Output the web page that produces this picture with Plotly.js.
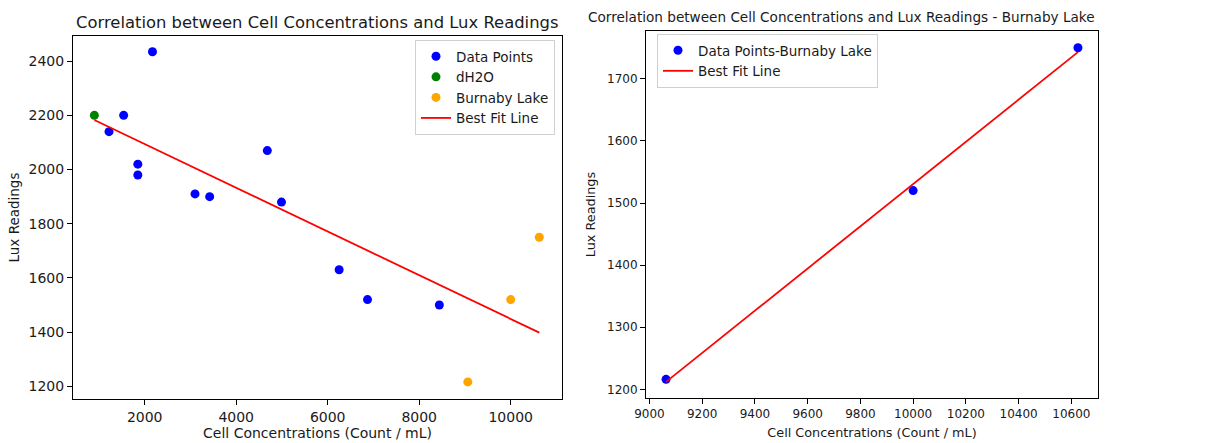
<!DOCTYPE html>
<html>
<head>
<meta charset="utf-8">
<script src="https://cdn.plot.ly/plotly-3.0.1.min.js"></script>
<style>html,body{margin:0;padding:0;background:#fff;}#chart{width:1207px;height:443px;}</style>
</head>
<body>
<div id="chart"></div>
<script>
// ---- Left panel data ----
const dataPointsX = [1220, 1540, 2170, 1850, 1850, 3100, 3420, 4680, 4990, 6250, 6870, 8440];
const dataPointsY = [2140, 2200, 2435, 2020, 1980, 1910, 1900, 2070, 1880, 1630, 1520, 1500];
const dH2OX = [900];
const dH2OY = [2200];
const burnabyX = [9063, 10000, 10625];
const burnabyY = [1216, 1520, 1750];
const fitLeftX = [900, 10625];
const fitLeftY = [2183, 1398];

// ---- Right panel data ----
const lakeX = [9063, 10000, 10625];
const lakeY = [1216, 1520, 1750];
const fitRightX = [9063, 10625];
const fitRightY = [1212, 1743];

// ---- Tick labels ----
const leftXTicks = [2000, 4000, 6000, 8000, 10000];
const leftYTicks = [1200, 1400, 1600, 1800, 2000, 2200, 2400];
const rightXTicks = [9000, 9200, 9400, 9600, 9800, 10000, 10200, 10400, 10600];
const rightYTicks = [1200, 1300, 1400, 1500, 1600, 1700];

const W = 1207, H = 443;
const FONT = 'DejaVu Sans, sans-serif';
const TXT = '#1a1a1a';

const traces = [
  {x: dataPointsX, y: dataPointsY, type: 'scatter', mode: 'markers', name: 'Data Points',
   marker: {color: '#0000ff', size: 9}, xaxis: 'x', yaxis: 'y', legend: 'legend'},
  {x: dH2OX, y: dH2OY, type: 'scatter', mode: 'markers', name: 'dH2O',
   marker: {color: '#008000', size: 9}, xaxis: 'x', yaxis: 'y', legend: 'legend'},
  {x: burnabyX, y: burnabyY, type: 'scatter', mode: 'markers', name: 'Burnaby Lake',
   marker: {color: '#ffa500', size: 9}, xaxis: 'x', yaxis: 'y', legend: 'legend'},
  {x: fitLeftX, y: fitLeftY, type: 'scatter', mode: 'lines', name: 'Best Fit Line',
   line: {color: '#ff0000', width: 1.8}, xaxis: 'x', yaxis: 'y', legend: 'legend'},
  {x: lakeX, y: lakeY, type: 'scatter', mode: 'markers', name: 'Data Points-Burnaby Lake',
   marker: {color: '#0000ff', size: 9}, xaxis: 'x2', yaxis: 'y2', legend: 'legend2'},
  {x: fitRightX, y: fitRightY, type: 'scatter', mode: 'lines', name: 'Best Fit Line',
   line: {color: '#ff0000', width: 1.8}, xaxis: 'x2', yaxis: 'y2', legend: 'legend2'}
];

function ax(extra) {
  return Object.assign({
    showline: true, linecolor: '#000', linewidth: 1, mirror: true,
    showgrid: false, zeroline: false, ticks: 'outside', ticklen: 5, tickwidth: 1,
    tickcolor: '#000', tickformat: 'd', tickfont: {family: FONT, size: 14, color: TXT}
  }, extra);
}

const layout = {
  width: W, height: H,
  margin: {l: 0, r: 0, t: 0, b: 0},
  paper_bgcolor: '#fff', plot_bgcolor: '#fff',
  font: {family: FONT, color: TXT},
  xaxis: ax({domain: [73/W, 562/W], range: [433, 11121], tickvals: leftXTicks, anchor: 'y',
    title: {text: 'Cell Concentrations (Count / mL)', font: {family: FONT, size: 14, color: TXT}, standoff: 4}}),
  yaxis: ax({domain: [(H-399)/H, (H-36)/H], range: [1153, 2493], tickvals: leftYTicks, anchor: 'x',
    title: {text: 'Lux Readings', font: {family: FONT, size: 13.5, color: TXT}, standoff: 5}}),
  xaxis2: ax({domain: [646/W, 1098/W], range: [8987, 10701], tickvals: rightXTicks, anchor: 'y2',
    tickfont: {family: FONT, size: 12, color: TXT},
    title: {text: 'Cell Concentrations (Count / mL)', font: {family: FONT, size: 12.8, color: TXT}, standoff: 7}}),
  yaxis2: ax({domain: [(H-398)/H, (H-31)/H], range: [1186, 1777], tickvals: rightYTicks, anchor: 'x2',
    tickfont: {family: FONT, size: 12, color: TXT},
    title: {text: 'Lux Readings', font: {family: FONT, size: 12.8, color: TXT}, standoff: 8}}),
  legend: {x: 555/W, y: (H-40)/H, xanchor: 'right', yanchor: 'top',
    bgcolor: 'rgba(255,255,255,0.85)', bordercolor: '#d0d0d0', borderwidth: 1,
    font: {family: FONT, size: 13.5, color: TXT}, tracegroupgap: 0},
  legend2: {x: 657/W, y: (H-34)/H, xanchor: 'left', yanchor: 'top',
    bgcolor: 'rgba(255,255,255,0.85)', bordercolor: '#d0d0d0', borderwidth: 1,
    font: {family: FONT, size: 13.5, color: TXT}, tracegroupgap: 0},
  showlegend: true,
  annotations: [
    {text: 'Correlation between Cell Concentrations and Lux Readings', xref: 'paper', yref: 'paper',
     x: 317/W, y: (H-22)/H, xanchor: 'center', yanchor: 'middle', showarrow: false,
     font: {family: FONT, size: 16.4, color: TXT}},
    {text: 'Correlation between Cell Concentrations and Lux Readings - Burnaby Lake', xref: 'paper', yref: 'paper',
     x: 841/W, y: (H-17)/H, xanchor: 'center', yanchor: 'middle', showarrow: false,
     font: {family: FONT, size: 13.6, color: TXT}}
  ]
};

Plotly.newPlot('chart', traces, layout, {displayModeBar: false, staticPlot: true});
</script>
</body>
</html>
